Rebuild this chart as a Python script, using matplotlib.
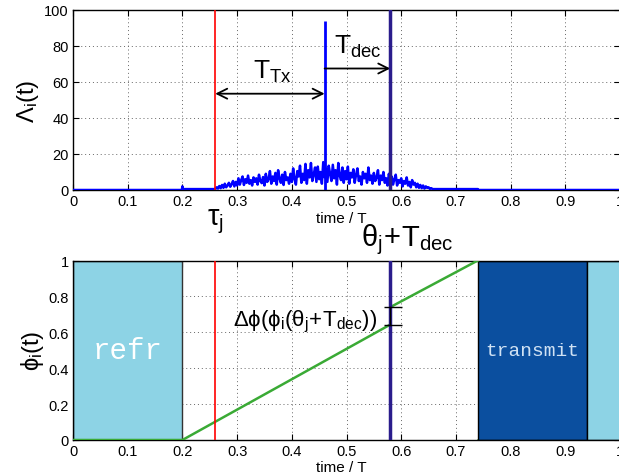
import numpy as np
import matplotlib
matplotlib.use("Agg")
import matplotlib.pyplot as plt
from matplotlib.patches import Rectangle
from matplotlib.transforms import blended_transform_factory

plt.rcParams['font.family'] = ['Liberation Sans', 'DejaVu Sans']
plt.rcParams['mathtext.fontset'] = 'custom'
plt.rcParams['mathtext.rm'] = 'Liberation Sans'
plt.rcParams['mathtext.it'] = 'Liberation Sans'
plt.rcParams['mathtext.bf'] = 'Liberation Sans:bold'

# ---------------- data ----------------
xticks = [0, 0.1, 0.2, 0.3, 0.4, 0.5, 0.6, 0.7, 0.8, 0.9, 1]
xticklabels = ['0', '0.1', '0.2', '0.3', '0.4', '0.5', '0.6', '0.7', '0.8', '0.9', '1']
yticks_top = [0, 20, 40, 60, 80, 100]
yticks_bot = [0, 0.2, 0.4, 0.6, 0.8, 1]
yticklabels_bot = ['0', '0.2', '0.4', '0.6', '0.8', '1']

tau_j = 0.26
theta_dec = 0.58
spike_t = 0.46
spike_h = 94

# baseline pieces of Lambda (time, value)
base_t = [0.0, 0.199, 0.2, 0.201, 0.26]
base_v = [0.0, 0.0, 2.0, 0.5, 0.5]
tail_t = [0.66, 0.74, 0.741, 1.0]
tail_v = [0.5, 0.5, 0.0, 0.0]

noise_start, noise_end = 0.26, 0.66
noise_vals = [
    0.5, 1.5, 0.8, 2.2, 1.0, 2.8, 1.2, 3.5, 1.5, 2.5, 4.0, 1.8, 3.2, 5.0, 2.0, 4.5,
    2.5, 6.5, 3.0, 5.5, 7.5, 2.8, 6.0, 4.0, 8.0, 3.5, 5.5, 2.5, 7.0, 4.5, 6.5, 3.0, 8.5, 5.0, 3.8, 7.2,
    2.5, 9.0, 4.5, 6.0, 10.5, 3.5, 7.5, 5.0, 9.5, 3.0, 11.0, 6.5, 4.0, 8.5, 2.8, 10.0, 5.5, 7.0, 3.5, 9.0,
    4.5, 12.0, 6.0, 3.0, 10.5, 7.5, 13.5, 4.0, 9.0, 5.5, 14.5, 3.5, 11.0, 7.0, 15.0, 5.0, 8.5, 12.5, 4.5, 13.0,
    6.0, 10.0, 3.5, 15.5, 7.0, 12.0, 4.5, 13.5, 9.0, 5.0, 14.0, 6.5, 11.0, 3.0, 15.0, 8.0, 5.5, 12.5, 4.0, 10.5,
    6.0, 13.0, 3.5, 9.5, 7.0, 11.5, 4.0, 8.5, 12.0, 5.0, 7.5, 3.0, 10.0, 6.5, 9.0, 4.0, 12.5, 5.5, 8.0, 3.5,
    9.5, 5.0, 7.0, 11.0, 3.0, 8.0, 5.5, 10.0, 4.0, 6.5, 2.5, 9.0, 4.5, 7.5, 3.0, 6.0, 8.5, 2.5, 5.5, 4.0,
    6.5, 2.0, 5.0, 3.5, 7.0, 2.5, 4.5, 1.5, 5.5, 3.0, 4.0, 1.5,
    3.5, 1.2, 2.8, 1.0, 2.5, 0.8, 2.0, 1.2, 1.5, 0.6, 1.0, 0.5, 0.5,
]

# phase trajectory (time, phase)
phi_t = [0.0, 0.2, 0.58, 0.58, 0.74]
phi_v = [0.0, 0.0, 0.643, 0.74, 1.0]
phi_rest_t = [0.74, 1.0]
phi_rest_v = [0.0, 0.0]
phi_before, phi_after = 0.643, 0.74

# state regions (start, end)
refr1 = (0.0, 0.2)
transmit = (0.74, 0.94)
refr2 = (0.94, 1.0)

# ---------------- figure ----------------
fig = plt.figure(figsize=(6.19, 4.77), dpi=100)
ax1 = fig.add_axes([73/619, 1-191/477, 547/619, 180/477])
ax2 = fig.add_axes([73/619, 1-441/477, 547/619, 179.5/477])

grid_kw = dict(color='#666666', linestyle=(0, (1, 3)), linewidth=0.7)
blue = '#0000ff'
red = '#ff0000'
indigo = '#2a1c8c'

# top panel
noise_t = np.linspace(noise_start, noise_end, len(noise_vals))
t_all = list(base_t) + list(noise_t) + list(tail_t)
v_all = list(base_v) + list(noise_vals) + list(tail_v)
ax1.plot(t_all, v_all, color=blue, lw=1.8, zorder=3)
ax1.vlines([spike_t], [0], [spike_h], color=blue, lw=2.0, zorder=3)
ax1.axvline(tau_j, color=red, lw=1.2, zorder=4)
ax1.axvline(theta_dec, color=indigo, lw=2.5, zorder=4)
ax1.set_xlim(0, 1)
ax1.set_ylim(0, 100)
ax1.set_xticks(xticks)
ax1.set_xticklabels(xticklabels)
ax1.set_yticks(yticks_top)
ax1.grid(True, **grid_kw)
ax1.set_axisbelow(True)

ax1.annotate('', xy=(tau_j, 53.5), xytext=(spike_t, 53.5),
             arrowprops=dict(arrowstyle='<->', color='black', lw=1.3,
                             mutation_scale=18, shrinkA=0, shrinkB=0))
ax1.annotate('', xy=(theta_dec, 67.5), xytext=(spike_t, 67.5),
             arrowprops=dict(arrowstyle='->', color='black', lw=1.3,
                             mutation_scale=18, shrinkA=0, shrinkB=0))
ax1.text(0.364, 66, r'$\mathrm{T_{Tx}}$', fontsize=19, ha='center', va='center')
ax1.text(0.52, 80, r'$\mathrm{T_{dec}}$', fontsize=19, ha='center', va='center')
ax1.set_ylabel(r'$\Lambda_i(t)$', fontsize=17, labelpad=2)
ax1.set_xlabel('time / T', fontsize=11, labelpad=1)
ax1.xaxis.set_label_coords(0.49, -0.115)

trans1 = blended_transform_factory(ax1.transData, fig.transFigure)
ax1.text(tau_j, 1-222/477, r'$\tau_j$', fontsize=21, ha='center', va='center',
         transform=trans1)
ax1.text(0.612, 1-240/477, r'$\theta_j\!+\!\mathrm{T_{dec}}$', fontsize=21,
         ha='center', va='center', transform=trans1)

# bottom panel
lightblue = '#8dd3e5'
darkblue = '#0b4f9f'
ax2.add_patch(Rectangle((refr1[0], 0), refr1[1]-refr1[0], 1, facecolor=lightblue,
                        edgecolor='#333333', lw=1.0, zorder=1))
ax2.add_patch(Rectangle((transmit[0], 0), transmit[1]-transmit[0], 1, facecolor=darkblue,
                        edgecolor='black', lw=1.0, zorder=1))
ax2.add_patch(Rectangle((refr2[0], 0), refr2[1]-refr2[0], 1, facecolor=lightblue,
                        edgecolor='black', lw=1.0, zorder=1))
ax2.text(sum(refr1)/2, 0.5, 'refr', fontsize=21, family='Liberation Mono',
         color='white', ha='center', va='center', zorder=2)
ax2.text(sum(transmit)/2, 0.5, 'transmit', fontsize=14, family='Liberation Mono',
         color='#d0e2f4', ha='center', va='center', zorder=2)

ax2.plot(phi_t, phi_v, color='#3aaa35', lw=1.8, zorder=3)
ax2.plot(phi_rest_t, phi_rest_v, color='#3aaa35', lw=1.8, zorder=0.5)
ax2.axvline(tau_j, color=red, lw=1.2, zorder=4)
ax2.axvline(theta_dec, color=indigo, lw=2.5, zorder=4)
ax2.plot([theta_dec, theta_dec], [phi_before, phi_after], color='black', lw=1.0, zorder=5)
ax2.hlines([phi_before, phi_after], theta_dec-0.011, theta_dec+0.022, color='black',
           lw=1.0, zorder=5)
ax2.text(0.557, 0.665, r'$\Delta\phi(\phi_i(\theta_j\!+\!\mathrm{T_{dec}}))$', fontsize=16,
         ha='right', va='center', zorder=6)

ax2.set_xlim(0, 1)
ax2.set_ylim(0, 1)
ax2.set_xticks(xticks)
ax2.set_xticklabels(xticklabels)
ax2.set_yticks(yticks_bot)
ax2.set_yticklabels(yticklabels_bot)
ax2.grid(True, **grid_kw)
ax2.set_axisbelow(True)
ax2.set_ylabel(r'$\phi_i(t)$', fontsize=17, labelpad=2)
ax2.set_xlabel('time / T', fontsize=11, labelpad=1)
ax2.xaxis.set_label_coords(0.49, -0.11)

for ax in (ax1, ax2):
    ax.tick_params(labelsize=10.5, direction='in', length=4, width=0.8,
                   top=True, right=True, pad=3)
    for s in ax.spines.values():
        s.set_linewidth(1.0)
    ax.set_zorder(1)
    ax.patch.set_alpha(0)

fig.savefig('out.png', dpi=100)
